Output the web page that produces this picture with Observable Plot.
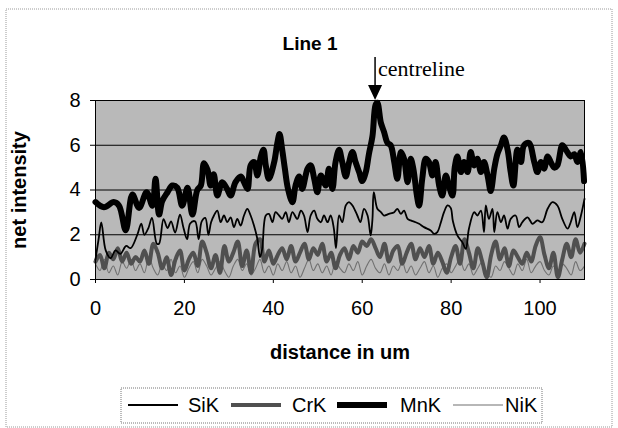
<!DOCTYPE html>
<html>
<head>
<meta charset="utf-8">
<script src="https://cdn.jsdelivr.net/npm/d3@7"></script>
<script src="https://cdn.jsdelivr.net/npm/@observablehq/plot@0.6"></script>
<style>
  html, body { margin: 0; padding: 0; background: white; overflow: hidden; }
  #chart { width: 618px; height: 428px; }
</style>
</head>
<body>
<div id="chart"></div>
<script>
// ---- data ----
const title = "Line 1";
const xLabel = "distance in um";
const yLabel = "net intensity";
const xTicks = [0, 20, 40, 60, 80, 100];
const yTicks = [0, 2, 4, 6, 8];
const seriesNames = ["SiK", "CrK", "MnK", "NiK"];
const centrelineAt = 63;

// [distance, intensity]
const mnk = [[0,3.46],[1.9,3.23],[4.1,3.46],[5.3,3.3],[6.8,2.2],[8.3,3.8],[9.8,3.2],[11.5,3.9],[12.8,3.3],[13.5,4.5],[14.3,2.9],[15,3.5],[16.2,3.9],[17.3,4.2],[18.4,4.1],[19.5,3.3],[20.7,4.1],[21.8,2.9],[22.9,4.0],[23.7,4.2],[24.4,5.2],[25.2,4.9],[25.9,4.2],[26.6,4.7],[27.4,3.75],[28.5,4.35],[29.6,4.05],[30.4,3.75],[31.5,4.35],[32.7,4.6],[33.4,4.35],[34.2,4.05],[34.9,5.1],[35.7,5.25],[36.4,4.65],[37.2,5.5],[37.8,5.8],[38.3,5.1],[39.0,4.5],[40.2,5.25],[40.9,6.1],[41.4,6.5],[42.0,5.8],[42.6,4.95],[43.3,4.05],[44.3,3.45],[45.0,4.2],[45.8,4.6],[46.5,4.05],[47.7,4.95],[48.4,5.1],[49.2,4.5],[49.9,3.9],[50.7,4.65],[51.8,4.2],[52.5,4.95],[53.3,4.05],[54.0,5.25],[54.8,5.8],[55.5,5.25],[56.3,4.6],[57.0,5.2],[57.8,5.7],[58.5,5.25],[59.3,4.8],[60.0,4.4],[60.8,4.8],[61.5,5.6],[62.3,6.4],[63.0,7.8],[63.4,7.9],[64.2,7.0],[64.9,6.6],[65.7,6.1],[66.4,6.0],[67.2,5.25],[67.9,4.5],[68.7,5.7],[69.4,5.4],[70.2,4.35],[70.9,5.4],[71.5,4.95],[72.3,3.75],[72.8,3.3],[73.5,4.5],[74.3,5.4],[75.0,5.25],[75.8,4.65],[76.5,5.25],[77.3,4.2],[78.0,3.75],[78.8,4.65],[79.5,4.2],[80.3,3.75],[80.8,5.0],[81.4,5.5],[82.2,4.8],[82.9,5.25],[83.7,4.8],[84.4,5.7],[85.2,5.1],[85.9,5.4],[86.7,4.8],[87.4,5.25],[88.2,4.65],[88.9,3.95],[89.7,4.95],[90.4,5.6],[91.2,6.0],[91.9,6.35],[92.7,5.8],[93.4,4.8],[94.0,4.2],[94.9,5.8],[95.7,5.25],[96.4,6.0],[97.5,6.1],[98.7,5.25],[99.4,4.8],[100.2,5.25],[100.9,4.95],[101.7,5.5],[102.4,5.25],[103.2,5.0],[103.9,5.1],[105.0,6.0],[105.8,5.8],[106.9,5.5],[107.7,5.6],[108.4,5.25],[109.2,5.7],[109.9,4.4]];

const sik = [[0,0.9],[0.7,1.8],[1.3,2.55],[2.3,1.3],[3.4,0.95],[4.5,1.3],[5.6,1.15],[6.9,1.5],[7.9,1.4],[9.4,2.0],[10.3,2.5],[11.0,2.0],[11.9,2.3],[12.7,2.75],[13.8,1.6],[14.3,1.6],[15.3,2.7],[16.2,2.3],[17.0,2.6],[17.9,2.1],[19.0,2.9],[19.8,2.3],[20.6,1.8],[21.3,2.5],[22.4,2.6],[23.2,1.8],[23.9,2.6],[24.7,2.75],[25.4,2.0],[26.0,2.56],[26.65,2.86],[27.4,3.08],[28.15,2.56],[28.9,2.86],[29.65,2.56],[30.4,2.78],[31.15,2.34],[31.9,2.71],[32.65,2.41],[33.4,2.86],[34.15,3.16],[34.9,2.86],[35.65,2.41],[36.4,1.82],[37.0,1.0],[37.5,1.37],[38.3,2.86],[39.0,2.93],[39.8,2.56],[40.5,3.01],[41.3,2.86],[42.0,2.71],[42.8,3.01],[43.5,2.56],[44.3,3.01],[45.4,2.71],[46.2,3.08],[46.9,2.86],[47.7,2.12],[48.4,2.86],[49.2,3.08],[49.9,2.71],[50.7,2.56],[51.4,2.86],[52.2,2.56],[52.9,2.86],[53.6,2.3],[54.1,1.4],[54.8,2.86],[55.5,2.56],[56.3,3.31],[57.0,3.46],[57.8,3.31],[58.9,2.86],[59.6,2.56],[60.4,3.16],[61.2,2.86],[61.9,1.97],[62.3,2.7],[62.6,3.9],[63.4,3.16],[64.2,3.01],[64.9,2.86],[66.0,2.93],[67.2,3.01],[67.9,3.16],[68.7,2.93],[69.4,3.08],[70.2,2.71],[70.9,2.64],[72.0,2.56],[72.8,2.49],[73.9,2.34],[75.4,2.19],[76.2,2.04],[76.9,2.12],[77.7,2.56],[78.4,3.01],[79.2,3.31],[79.9,3.2],[80.4,2.6],[81.4,1.97],[82.5,1.67],[83.3,1.37],[84.0,2.27],[85.2,3.01],[85.9,2.86],[86.7,3.08],[87.4,2.12],[87.8,3.31],[88.5,2.71],[89.3,3.16],[89.7,2.12],[90.4,3.01],[91.2,2.56],[91.9,2.86],[92.7,2.27],[93.4,2.71],[94.5,2.86],[95.3,2.34],[96.0,2.56],[97.2,2.78],[98.3,2.49],[99.4,2.64],[100.5,2.56],[101.7,3.16],[102.8,3.46],[103.9,3.31],[105.0,2.71],[106.2,2.27],[106.9,2.56],[107.7,3.01],[108.4,2.34],[109.2,2.86],[110,3.6]];

// one value per micrometre, 0..110
const crk = [0.8,1.1,0.5,1.2,0.9,1.4,0.8,1.2,0.7,1.0,0.8,1.3,0.7,1.6,1.2,0.5,1.0,0.2,0.9,1.3,0.4,0.9,1.2,0.6,1.7,1.2,0.5,1.1,0.3,1.5,0.8,1.2,1.7,0.6,1.3,0.3,1.6,1.8,0.8,1.3,0.7,1.1,1.4,0.9,1.5,0.8,1.2,1.6,0.9,1.4,1.1,1.6,0.8,1.2,0.5,1.1,1.4,0.9,1.5,1.2,1.7,1.5,1.8,1.4,1.0,1.6,0.8,1.3,1.5,0.7,1.2,1.6,0.9,1.4,1.0,1.5,0.7,1.2,0.8,0.3,1.0,1.5,0.7,1.8,1.2,0.5,1.4,0.8,0.1,1.1,1.7,0.9,1.4,0.6,1.3,1.0,0.7,1.2,0.8,1.5,1.9,1.1,0.5,1.2,0.1,0.9,1.6,1.0,1.8,1.2,1.6];
const nik = [0.7,0.4,0.9,0.3,0.6,0.2,0.8,0.5,0.9,0.4,0.7,0.3,1.0,0.5,0.2,0.7,0.4,0.9,0.3,0.6,0.1,0.5,0.8,0.3,0.9,0.6,0.2,0.5,0.8,0.4,0.1,0.6,0.9,0.4,0.7,0.2,0.5,0.9,0.3,0.6,0.2,0.7,0.4,0.8,0.3,0.6,0.1,0.5,0.9,0.4,0.7,0.3,0.6,0.2,0.8,0.5,0.3,0.7,0.4,0.8,0.2,0.6,0.9,0.5,0.3,0.7,0.2,0.6,0.4,0.8,0.3,0.6,0.2,0.5,0.8,0.3,0.6,0.1,0.5,0.7,0.3,0.6,0.9,0.4,0.7,0.2,0.5,0.8,0.3,0.1,0.6,0.4,0.8,0.5,0.2,0.7,0.4,0.9,0.3,0.6,0.8,0.4,0.2,0.6,0.3,0.7,0.5,0.2,0.8,0.4,0.6];

// ---- build tables ----
const pairs = a => a.map(([d, v]) => ({d, v}));
const perUm = a => a.map((v, i) => ({d: i, v}));
const styles = {
  SiK: {stroke: "#000", strokeWidth: 1.8},
  CrK: {stroke: "#505050", strokeWidth: 4},
  MnK: {stroke: "#000", strokeWidth: 6},
  NiK: {stroke: "#707070", strokeWidth: 1.1}
};
const font = "'Liberation Sans', Arial, sans-serif";

const plot = Plot.plot({
  width: 618,
  height: 428,
  marginLeft: 95,
  marginRight: 34,
  marginTop: 100,
  marginBottom: 149,
  style: {fontFamily: font, fontSize: "20px", background: "white", color: "black", overflow: "visible"},
  x: {domain: [0, 110]},
  y: {domain: [0, 8]},
  marks: [
    Plot.frame({fill: "#b9b9b9"}),
    Plot.gridY([2, 4, 6], {stroke: "#000", strokeOpacity: 1, strokeWidth: 1}),
    Plot.line(perUm(nik), {x: "d", y: "v", curve: "catmull-rom", ...styles.NiK}),
    Plot.line(perUm(crk), {x: "d", y: "v", curve: "catmull-rom", ...styles.CrK}),
    Plot.line(pairs(sik), {x: "d", y: "v", curve: "catmull-rom", ...styles.SiK}),
    Plot.line(pairs(mnk), {x: "d", y: "v", curve: "catmull-rom", ...styles.MnK}),
    Plot.frame({stroke: "#000", strokeWidth: 1}),
    Plot.axisX(xTicks, {label: null, tickSize: 4, tickPadding: 17, fontSize: 20}),
    Plot.axisY(yTicks, {label: null, tickSize: 5, tickPadding: 10, fontSize: 20})
  ]
});
document.getElementById("chart").appendChild(plot);

// ---- decorations (title, axis titles, annotation, legend, border) ----
const svg = d3.select(plot);
const xs = plot.scale("x"), ys = plot.scale("y");

svg.insert("rect", ":first-child")
  .attr("x", 6).attr("y", 9).attr("width", 606).attr("height", 418)
  .attr("fill", "white").attr("stroke", "#9a9a9a").attr("stroke-dasharray", "1,1");

svg.append("text").text(title)
  .attr("x", 310).attr("y", 50).attr("text-anchor", "middle")
  .attr("font-family", font).attr("font-weight", "bold").attr("font-size", 19);

svg.append("text").text(xLabel)
  .attr("x", 340).attr("y", 359).attr("text-anchor", "middle")
  .attr("font-family", font).attr("font-weight", "bold").attr("font-size", 20);

svg.append("text").text(yLabel)
  .attr("transform", "translate(26,190) rotate(-90)").attr("text-anchor", "middle")
  .attr("font-family", font).attr("font-weight", "bold").attr("font-size", 20);

// centreline arrow
const ax = xs.apply(centrelineAt);
const topY = ys.apply(8);
svg.append("line").attr("x1", ax).attr("x2", ax).attr("y1", 57).attr("y2", topY - 12)
  .attr("stroke", "#000").attr("stroke-width", 1.5);
svg.append("path")
  .attr("d", `M${ax - 7},${topY - 15} L${ax + 7},${topY - 15} L${ax},${topY} Z`)
  .attr("fill", "#000");
svg.append("text").text("centreline")
  .attr("x", ax + 3).attr("y", 76).attr("text-anchor", "start")
  .attr("font-family", "'Liberation Serif', 'Times New Roman', serif").attr("font-size", 22);

// legend
const lg = svg.append("g");
lg.append("rect").attr("x", 121).attr("y", 388).attr("width", 421).attr("height", 35)
  .attr("fill", "white").attr("stroke", "#777").attr("stroke-dasharray", "1,1");
const lineStarts = [128, 231, 337, 453];
const textStarts = [188, 292, 400, 505];
seriesNames.forEach((name, i) => {
  lg.append("line").attr("x1", lineStarts[i]).attr("x2", lineStarts[i] + 50)
    .attr("y1", 405).attr("y2", 405)
    .attr("stroke", styles[name].stroke).attr("stroke-width", styles[name].strokeWidth);
  lg.append("text").text(name).attr("x", textStarts[i]).attr("y", 412)
    .attr("text-anchor", "start")
    .attr("font-family", font).attr("font-size", 20);
});
</script>
</body>
</html>
